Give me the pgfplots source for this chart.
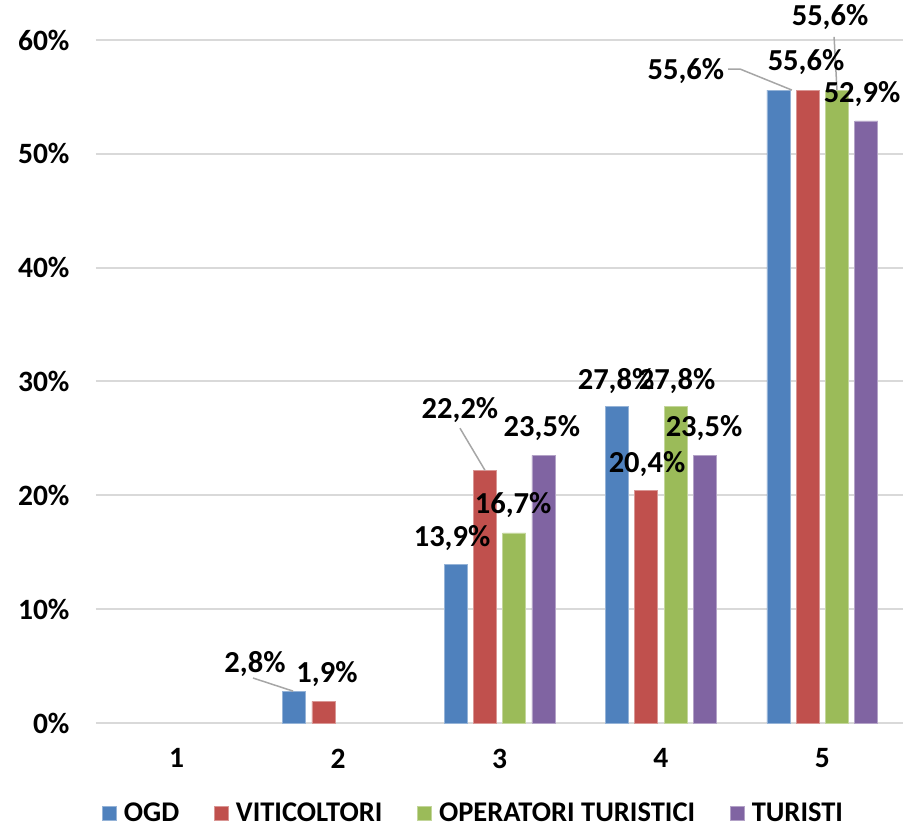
\documentclass[border=0pt]{standalone}
\usepackage{pgfplots}
\pgfplotsset{compat=1.18}
\usepackage{fontspec}
\setmainfont{Carlito}
\definecolor{cOGD}{HTML}{4F81BD}
\definecolor{cVIT}{HTML}{C0504D}
\definecolor{cOPE}{HTML}{9BBB59}
\definecolor{cTUR}{HTML}{8064A2}
\definecolor{gridc}{HTML}{D9D9D9}
\definecolor{leadc}{HTML}{A6A6A6}
\begin{document}
\begin{tikzpicture}[lbl/.style={font=\fontsize{30.5}{32}\selectfont\bfseries, inner sep=0pt, anchor=center}]
\begin{axis}[
  scale only axis, width=807pt, height=683pt,
  xmin=0.5, xmax=5.5, ymin=0, ymax=60,
  ybar=6.3pt, bar width=23pt,
  axis line style={draw=none}, tick style={draw=none},
  ymajorgrids, grid style={gridc, line width=2pt},
  ytick={0,10,20,30,40,50,60},
  yticklabel={\pgfmathprintnumber{\tick}\%},
  xtick={1,2,3,4,5},
  /pgf/number format/assume math mode=true,
  ticklabel style={font=\fontsize{29.5}{31}\selectfont\bfseries},
  yticklabel style={xshift=-23pt},
  xticklabel style={yshift=-18pt},
  clip=false,
  legend style={draw=none, at={(rel axis cs:0.468,-0.132)}, anchor=center,
    font=\fontsize{28.5}{30}\selectfont\bfseries, legend columns=4,
    /tikz/every even column/.append style={column sep=33pt}},
  legend image code/.code={\fill[#1] (0pt,-7pt) rectangle (14pt,7pt);},
  legend cell align=left,
]
\addplot[fill=cOGD, draw=cOGD!60!white, line width=0.6pt] coordinates {(2,2.8) (3,13.9) (4,27.8) (5,55.6)};
\addplot[fill=cVIT, draw=cVIT!60!white, line width=0.6pt] coordinates {(2,1.9) (3,22.2) (4,20.4) (5,55.6)};
\addplot[fill=cOPE, draw=cOPE!60!white, line width=0.6pt] coordinates {(3,16.7) (4,27.8) (5,55.6)};
\addplot[fill=cTUR, draw=cTUR!60!white, line width=0.6pt] coordinates {(3,23.5) (4,23.5) (5,52.9)};
\legend{\hspace{5pt}OGD, \hspace{5pt}VITICOLTORI, \hspace{5pt}OPERATORI TURISTICI, \hspace{5pt}TURISTI}
\coordinate (O) at (rel axis cs:0,0);
% leader lines
\draw[leadc, line width=1.5pt] (axis cs:1.473,3.95) -- (axis cs:1.721,2.8);
\draw[leadc, line width=1.5pt] (axis cs:2.755,25.9) -- (axis cs:2.910,22.2);
\draw[leadc, line width=1.5pt] (axis cs:4.416,57.45) -- (axis cs:4.490,57.45) -- (axis cs:4.812,55.6);
\draw[leadc, line width=1.5pt] (axis cs:5.073,60.27) -- (axis cs:5.091,55.6);
% data labels
\node[lbl] at (axis cs:1.485,5.18) {2,8\%};
\node[lbl] at (axis cs:1.931,4.30) {1,9\%};
\node[lbl] at (axis cs:2.706,16.25) {13,9\%};
\node[lbl] at (axis cs:2.755,27.5) {22,2\%};
\node[lbl] at (axis cs:3.084,19.15) {16,7\%};
\node[lbl] at (axis cs:3.263,25.92) {23,5\%};
\node[lbl] at (axis cs:3.722,30.0) {27,8\%};
\node[lbl] at (axis cs:3.914,22.75) {20,4\%};
\node[lbl] at (axis cs:4.100,30.0) {27,8\%};
\node[lbl] at (axis cs:4.267,25.92) {23,5\%};
\node[lbl] at (axis cs:4.155,57.28) {55,6\%};
\node[lbl] at (axis cs:4.899,58.07) {55,6\%};
\node[lbl] at (axis cs:5.048,62.02) {55,6\%};
\node[lbl] at (axis cs:5.246,55.26) {52,9\%};
\end{axis}
\pgfresetboundingbox
\path (O) ++(-96pt,-106pt) rectangle ++(911pt,829pt);
\end{tikzpicture}
\end{document}
